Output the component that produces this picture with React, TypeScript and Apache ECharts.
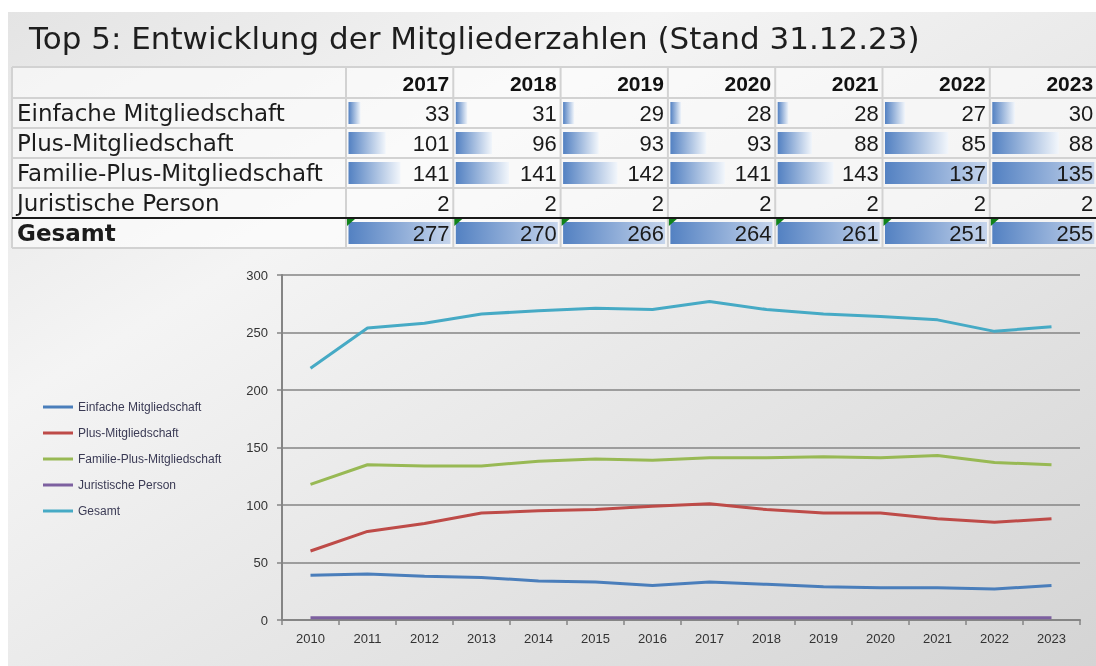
import React, { useEffect, useRef } from "react";
import * as echarts from "echarts";

// ---------- data ----------
const years = ["2010", "2011", "2012", "2013", "2014", "2015", "2016", "2017", "2018", "2019", "2020", "2021", "2022", "2023"];
const seriesNames = ["Einfache Mitgliedschaft", "Plus-Mitgliedschaft", "Familie-Plus-Mitgliedschaft", "Juristische Person", "Gesamt"];
const einfache = [39, 40, 38, 37, 34, 33, 30, 33, 31, 29, 28, 28, 27, 30];
const plus = [60, 77, 84, 93, 95, 96, 99, 101, 96, 93, 93, 88, 85, 88];
const familie = [118, 135, 134, 134, 138, 140, 139, 141, 141, 142, 141, 143, 137, 135];
const juristisch = [2, 2, 2, 2, 2, 2, 2, 2, 2, 2, 2, 2, 2, 2];
const gesamt = [219, 254, 258, 266, 269, 271, 270, 277, 270, 266, 264, 261, 251, 255];
const lineColors = ["#4a7ebb", "#be4b48", "#98b954", "#7d60a0", "#46aac5"];
const tableYears = ["2017", "2018", "2019", "2020", "2021", "2022", "2023"];
const dataBarMax = [277, 270, 266, 264, 261, 137, 135];
const rowHasDataBar = [true, true, true, false, true];
const titleText = "Top 5: Entwicklung der Mitgliederzahlen (Stand 31.12.23)";
const yMin = 0;
const yMax = 300;
const yInterval = 50;

// ---------- layout ----------
const W = 1096;
const H = 666;
const tableLeft = 12;
const colLeft0 = 346;
const colW = 107.3;
const tableTop = 67;
const headerBottom = 98;
const rowH = 30;

const allSeries = [einfache, plus, familie, juristisch, gesamt];

export default function App() {
  const ref = useRef<HTMLDivElement>(null);
  useEffect(() => {
    if (!ref.current) return;
    const chart = echarts.init(ref.current, null, { renderer: "svg" });
    const offset = years.indexOf(tableYears[0]);

    const grids: any[] = [
      { left: 282, right: 16, top: 275, bottom: 46, containLabel: false, outerBoundsMode: "none" },
    ];
    const xAxes: any[] = [
      {
        type: "category",
        gridIndex: 0,
        data: years,
        boundaryGap: true,
        axisLine: { lineStyle: { color: "#858585", width: 2 } },
        axisTick: { show: true, length: 5, interval: 0, lineStyle: { color: "#858585", width: 1.5 } },
        axisLabel: { interval: 0, margin: 12, fontSize: 13, fontFamily: "Liberation Sans", color: "#333" },
      },
    ];
    const yAxes: any[] = [
      {
        type: "value",
        gridIndex: 0,
        min: yMin,
        max: yMax,
        interval: yInterval,
        axisLine: { show: true, lineStyle: { color: "#858585", width: 2 } },
        axisTick: { show: true, length: 5, lineStyle: { color: "#858585", width: 1.5 } },
        axisLabel: { margin: 14, fontSize: 13, fontFamily: "Liberation Sans", color: "#333" },
        splitLine: { lineStyle: { color: "#858585", width: 1.5 } },
      },
    ];
    const series: any[] = seriesNames.map((name, i) => ({
      type: "line",
      name,
      xAxisIndex: 0,
      yAxisIndex: 0,
      data: allSeries[i],
      showSymbol: false,
      symbol: "none",
      lineStyle: { color: lineColors[i], width: 3 },
      itemStyle: { color: lineColors[i] },
      z: 3,
    }));

    tableYears.forEach((yr, j) => {
      const gi = j + 1;
      const left = colLeft0 + j * colW + 2.5;
      const max = dataBarMax[j];
      const colVals = allSeries.map((s) => s[offset + j]);
      grids.push({ left, top: headerBottom, width: 102, height: rowH * 5, containLabel: false, outerBoundsMode: "none" });
      xAxes.push({ type: "value", gridIndex: gi, min: 0, max, show: false });
      yAxes.push({
        type: "category",
        gridIndex: gi,
        inverse: true,
        data: seriesNames.map((n, i) =>
          i === 4 ? { value: n, textStyle: { fontWeight: "bold", align: "left" } } : n
        ),
        show: j === 0,
        axisLine: { show: false },
        axisTick: { show: false },
        splitLine: { show: false },
        axisLabel: {
          show: j === 0,
          margin: left - 17,
          align: "left",
          fontFamily: "DejaVu Sans",
          fontSize: 23,
          color: "#1c1c1c",
        },
      });
      series.push({
        type: "bar",
        name: "bars" + yr,
        xAxisIndex: gi,
        yAxisIndex: gi,
        barWidth: 22,
        silent: true,
        data: colVals.map((v, i) => {
          const full = v >= max;
          return rowHasDataBar[i]
            ? {
                value: Math.min(v, max),
                itemStyle: {
                  color: new echarts.graphic.LinearGradient(0, 0, 1, 0, [
                    { offset: 0, color: "#5381c2" },
                    { offset: 1, color: full ? "#c6d5ec" : "#f2f6fb" },
                  ]),
                },
              }
            : { value: 0, itemStyle: { color: "rgba(0,0,0,0)" } };
        }),
      });
      series.push({
        type: "bar",
        name: "labels" + yr,
        xAxisIndex: gi,
        yAxisIndex: gi,
        barWidth: 22,
        barGap: "-100%",
        silent: true,
        itemStyle: { color: "rgba(0,0,0,0)" },
        data: colVals.map(() => max),
        label: {
          show: true,
          position: "insideRight",
          distance: 1,
          formatter: (p: any) => String(colVals[p.dataIndex]),
          fontFamily: "Liberation Sans",
          fontSize: 22,
          color: "#1a1a1a",
        },
        z: 4,
      });
    });

    const graphics: any[] = [];
    graphics.push({ type: "rect", shape: { x: 0, y: 0, width: W, height: H }, style: { fill: "#ffffff" }, z: -20, silent: true });
    graphics.push({
      type: "rect",
      shape: { x: 8, y: 12, width: W - 8, height: H - 12 },
      style: {
        fill: new echarts.graphic.LinearGradient(0, 0, 1, 1, [
          { offset: 0, color: "#e4e4e4" },
          { offset: 0.3, color: "#f4f4f4" },
          { offset: 1, color: "#d4d4d4" },
        ]),
      },
      z: -19,
      silent: true,
    });
    graphics.push({
      type: "rect",
      shape: { x: tableLeft, y: tableTop, width: W - tableLeft, height: headerBottom + rowH * 5 - tableTop },
      style: { fill: "rgba(255,255,255,0.55)" },
      z: -18,
      silent: true,
    });
    const lineStyle = { stroke: "#d2d2d2", lineWidth: 2 };
    const hLines = [tableTop, headerBottom, headerBottom + rowH, headerBottom + rowH * 2, headerBottom + rowH * 3, headerBottom + rowH * 5];
    hLines.forEach((y) =>
      graphics.push({ type: "line", shape: { x1: tableLeft, y1: y, x2: W, y2: y }, style: lineStyle, z: -17, silent: true })
    );
    const vLines = [tableLeft, ...tableYears.map((_, j) => colLeft0 + j * colW)];
    vLines.forEach((x) =>
      graphics.push({ type: "line", shape: { x1: x, y1: tableTop, x2: x, y2: headerBottom + rowH * 5 }, style: lineStyle, z: -17, silent: true })
    );
    const blackY = headerBottom + rowH * 4;
    graphics.push({ type: "line", shape: { x1: tableLeft, y1: blackY, x2: W, y2: blackY }, style: { stroke: "#1a1a1a", lineWidth: 2 }, z: 10, silent: true });
    tableYears.forEach((yr, j) => {
      const cl = colLeft0 + j * colW;
      graphics.push({
        type: "text",
        style: {
          text: yr,
          x: cl + colW - 4,
          y: (tableTop + headerBottom) / 2 + 1,
          align: "right",
          verticalAlign: "middle",
          fontFamily: "Liberation Sans",
          fontWeight: "bold",
          fontSize: 21,
          fill: "#111",
        },
        z: 10,
        silent: true,
      });
      graphics.push({
        type: "polygon",
        shape: { points: [[cl + 1, blackY + 1], [cl + 9, blackY + 1], [cl + 1, blackY + 8]] },
        style: { fill: "#11821b" },
        z: 11,
        silent: true,
      });
    });

    chart.setOption({
      animation: false,
      title: {
        text: titleText,
        left: 24,
        top: 17,
        textStyle: { fontFamily: "DejaVu Sans", fontSize: 31, fontWeight: "normal", color: "#1e1e1e" },
      },
      legend: {
        data: seriesNames,
        orient: "vertical",
        left: 38,
        top: 395,
        icon: "rect",
        itemWidth: 30,
        itemHeight: 3,
        itemGap: 12,
        selectedMode: false,
        textStyle: { fontSize: 12, fontFamily: "Liberation Sans", color: "#3b3b55", lineHeight: 14 },
      },
      grid: grids,
      xAxis: xAxes,
      yAxis: yAxes,
      series,
      graphic: graphics,
    });
    return () => chart.dispose();
  }, []);
  return <div ref={ref} style={{ position: "fixed", left: 0, top: 0, width: W, height: H }} />;
}
